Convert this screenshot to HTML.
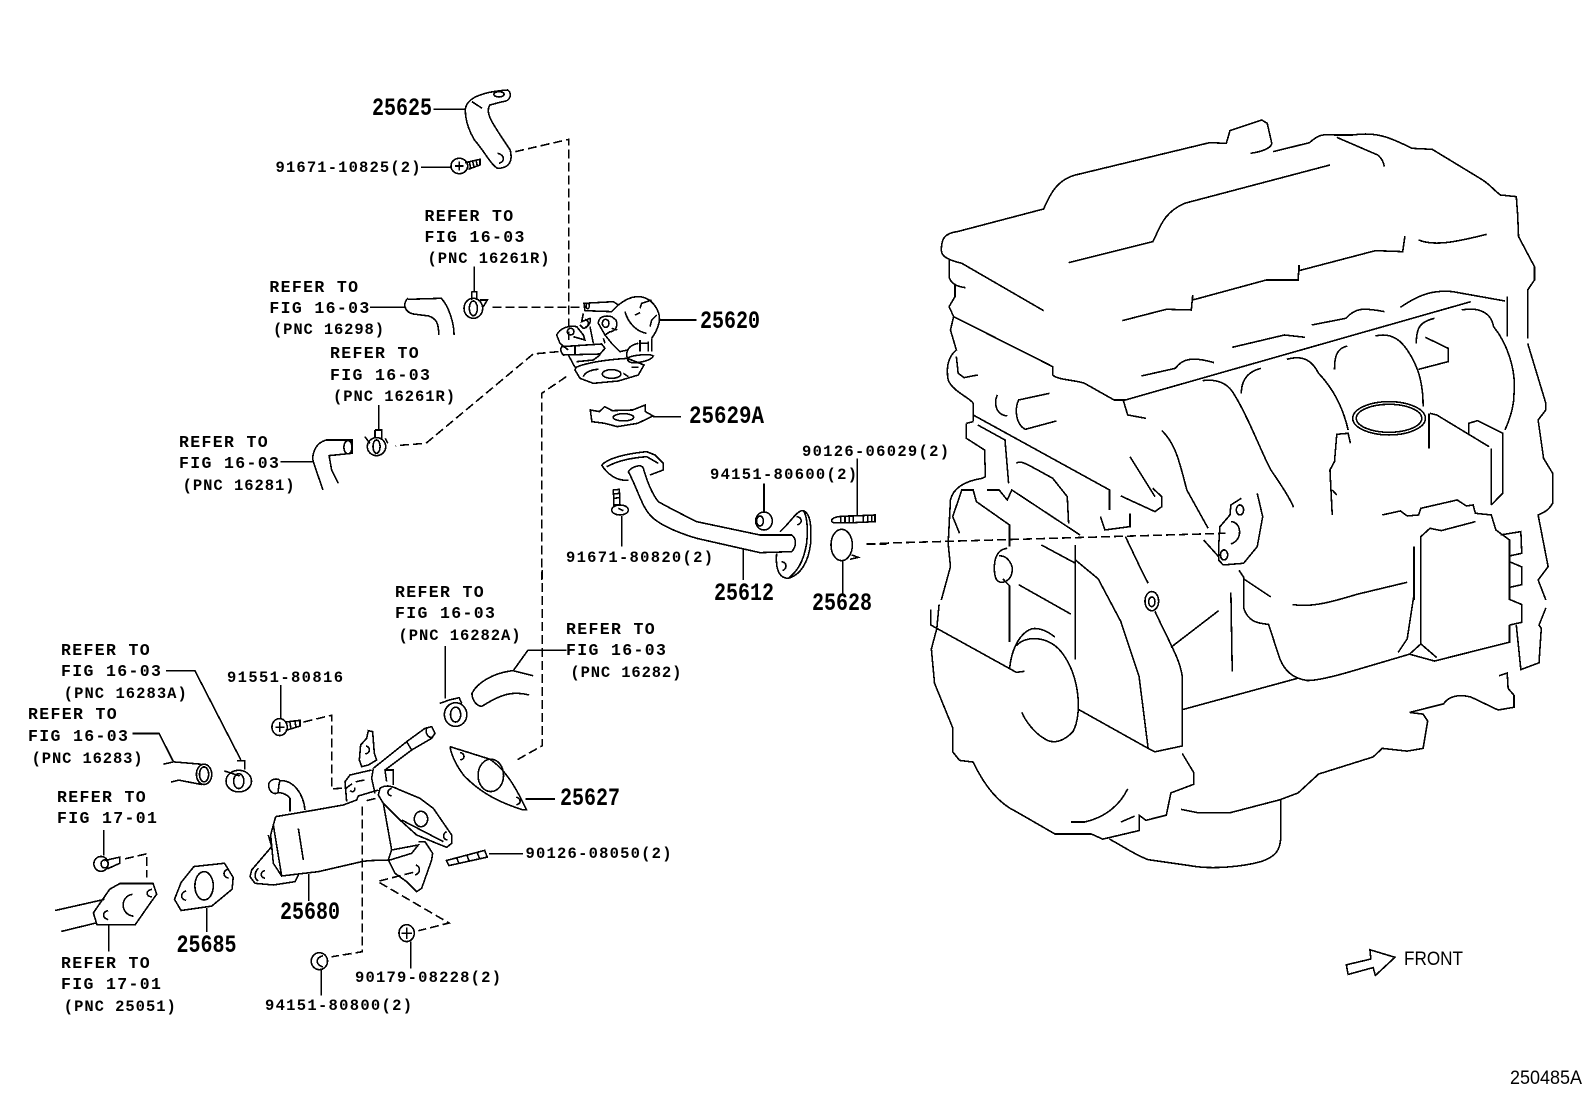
<!DOCTYPE html>
<html><head><meta charset="utf-8"><style>
html,body{margin:0;padding:0;background:#fff}
svg{display:block}
.l path,.l ellipse,.l line{fill:none;stroke:#000;stroke-width:1.6;vector-effect:non-scaling-stroke;shape-rendering:crispEdges}
.l .d{stroke-dasharray:9 4}
text{fill:#000}
.r{font:bold 16.5px "Liberation Mono",monospace;letter-spacing:1.35px}
.n{font:bold 15.5px "Liberation Mono",monospace}
.b{font:bold 25px "Liberation Mono",monospace}
.f{font:19px "Liberation Sans",sans-serif}
</style></head><body>
<svg xmlns="http://www.w3.org/2000/svg" width="1592" height="1099" viewBox="0 0 1592 1099">
<rect width="1592" height="1099" fill="#fff"/>

<!-- upper-left parts -->
<g class="l" transform="translate(0,60) scale(.5102,.3333)">
<path d="M912 148C915 110 950 95 995 90C1005 100 1000 125 985 125L960 135C950 160 965 190 1000 270C1005 300 1000 325 975 325C960 310 950 275 930 240C918 210 912 180 912 148M925 125L945 145"/>
<ellipse cx="978" cy="103" rx="10" ry="8"/><path d="M975 280C990 285 990 305 978 310"/>
<path d="M850 148L912 148M825 322L885 322"/>
<path class="d" d="M1010 275L1115 238L1115 840"/>
<path d="M725 742L795 742M800 715C790 725 790 755 810 762L840 768C855 775 860 790 860 825M800 718L865 715C880 740 890 790 890 825"/>
<path class="d" d="M965 742L1145 742"/>
<path class="d" d="M1095 875L1045 882L835 1150L775 1157"/>
<path class="d" d="M1110 950L1062 1000L1062 1560"/>
<path d="M1157 1050L1160 1085L1185 1090L1210 1100L1250 1090L1280 1068L1265 1055L1265 1035L1240 1050L1200 1052L1185 1040L1175 1055ZM1280 1070L1335 1070"/>
<ellipse cx="1222" cy="1072" rx="20" ry="11"/>
<path d="M742 1035L742 1110M735 1110L748 1110L748 1135M735 1110L735 1135M715 1130L725 1150M755 1135L760 1150"/><ellipse cx="738" cy="1160" rx="18" ry="27"/><ellipse cx="738" cy="1160" rx="7" ry="20"/>
<path d="M550 1205L615 1205M640 1140C615 1150 610 1190 615 1210L633 1290M640 1140L690 1140L690 1180L645 1187L650 1230L663 1270"/><ellipse cx="682" cy="1162" rx="8" ry="20"/>
</g>

<!-- bolt and clip near 25625 -->
<g class="l" transform="translate(430,130) scale(.3333)">
<ellipse cx="88" cy="108" rx="25" ry="23"/><path d="M75 108L100 108M88 95L88 122M105 98L150 88L150 105L115 118M118 95L122 115M128 93L132 112M138 90L142 108"/>
<path d="M133 410L133 485M125 485L140 485L140 510M125 485L125 510M150 510L172 510L160 530"/><ellipse cx="130" cy="535" rx="28" ry="30"/><ellipse cx="130" cy="535" rx="12" ry="22"/>
</g>

<!-- valve 25620 -->
<g class="l" transform="translate(540,280) scale(.3333)">
<path d="M132 70L220 65L235 75L215 95L135 92Z"/><ellipse cx="143" cy="78" rx="5" ry="8"/>
<path d="M235 75C260 55 285 45 310 52C340 60 362 95 358 125C352 150 345 160 335 175M255 95C265 130 290 155 320 160M285 105L300 98M335 60L305 70L300 85M330 140L335 120L350 105M358 120L470 120"/>
<path d="M335 175L335 215M325 185L325 215M300 190L325 190M300 180L300 215M295 190C270 195 255 210 262 235"/>
<path d="M262 235C275 225 330 220 340 228C335 240 300 250 275 248C262 245 262 238 262 235"/>
<path d="M108 262C135 250 190 240 262 235L312 255L295 285L235 303L160 310L120 295L105 270ZM130 290C135 275 160 268 175 268M275 262L295 262M250 280L265 290"/>
<ellipse cx="215" cy="282" rx="28" ry="13"/>
<path d="M175 130C175 110 195 105 215 110L228 120C235 140 225 155 210 155L195 165M175 130L195 165L215 190L240 215L262 210M215 145L232 150"/><ellipse cx="197" cy="130" rx="10" ry="12"/>
<path d="M130 100L125 125L150 115C155 130 140 145 130 145L120 135M135 118C148 122 148 138 135 142"/>
<path d="M50 165C60 145 85 135 110 140L130 165L135 180L100 170M50 165L60 190L85 210"/><ellipse cx="92" cy="155" rx="10" ry="10"/>
<path d="M65 200L185 192L195 205L180 222L70 225C60 215 62 205 65 200ZM105 198L105 222M85 225L105 262M150 140L160 190M180 225L160 240L110 245M190 175L195 190"/>
</g>

<!-- pipe 25612, stud, o-ring -->
<g class="l" transform="translate(600,440) scale(.3333)">
<path d="M5 75C30 50 90 40 140 35L165 45L190 70L190 90L150 105M85 120C50 125 20 100 5 75M20 80C50 65 80 55 140 50L175 70"/>
<path d="M85 95C95 80 125 70 130 85C140 120 155 160 175 185C210 205 250 225 290 245L480 285L575 285C590 295 590 320 575 335L480 338L290 295C240 280 190 260 160 235C125 205 115 150 85 95"/>
<path d="M40 150L58 148L60 195L42 195ZM40 162L58 160M41 175L59 173M65 228L65 320M55 205L70 212"/><ellipse cx="60" cy="210" rx="25" ry="15"/>
<ellipse cx="492" cy="243" rx="25" ry="27"/><ellipse cx="480" cy="243" rx="10" ry="15"/><path d="M492 130L492 215"/>
<path d="M540 275C570 250 590 210 610 212C630 220 635 250 632 310C625 370 600 405 565 415C545 415 525 400 530 340M610 212C620 225 625 260 620 310C610 370 590 395 565 415M590 230C608 232 608 250 592 255M545 365C562 368 562 385 548 392"/>
<path d="M430 325L430 420"/>
<path d="M695 240C700 230 720 228 760 228L825 225L825 245L760 248L705 248C695 248 695 245 695 240ZM760 228L760 248M722 228L722 248M735 228L735 248M748 228L748 248M790 227L790 247M803 227L803 247M815 226L815 246M772 55L772 225"/>
<ellipse cx="725" cy="315" rx="32" ry="47"/><path d="M755 345L775 352L750 358M728 360L728 460"/>
<path class="d" d="M800 312L860 312"/>
</g>

<!-- cooler 25680 -->
<g class="l" transform="translate(240,710) scale(.3333)">
<path d="M107 320L225 300L310 285L350 270L355 258L415 240"/>
<path d="M107 320L100 345L125 498L235 485L365 455L385 452L450 450L515 430L535 405L455 420"/>
<path d="M100 345L92 375L100 460L125 498M175 355L190 450M430 280L455 420L445 450L465 490L500 515L530 545L545 535L575 450L578 430L555 395L535 395"/>
<path d="M85 375L95 410L35 480L30 500L45 520L100 525L165 515L175 495M55 475C40 490 45 510 55 512M75 482C60 485 60 502 75 505M528 465C542 470 542 490 525 495"/>
<path d="M150 305L150 265C140 250 115 245 110 250C90 255 80 225 90 215C100 205 115 205 120 212C160 210 190 250 195 300M120 212C115 225 115 240 115 250"/>
<path d="M400 175L500 95L555 55L575 50L585 70L575 85L515 120L435 180L440 215M500 95L515 120M400 175L395 205L405 250M435 180L460 180L460 225M560 55C555 70 565 85 578 82"/>
<path d="M362 105L380 85L385 62L398 65L403 130L410 150L385 165L365 170L358 150ZM378 108C392 112 392 128 376 132"/>
<path d="M320 275L315 215L330 195L395 180M345 232C345 245 338 248 330 242"/>
<path d="M420 235C435 225 450 225 480 240L540 265L580 295L635 375L635 400L620 412L590 400L530 375L480 330L430 280L415 255ZM485 330L610 395M455 235C440 240 440 255 455 258M620 365C608 370 608 388 622 390"/>
<ellipse cx="543" cy="327" rx="20" ry="23"/>
<path class="d" d="M380 272L408 265"/>
<path class="d" d="M315 238C340 215 355 212 380 210"/>
</g>

<!-- lower-left parts -->
<g class="l" transform="translate(0,570) scale(.5102,.3378)">
<path d="M873 225L873 380M862 395L880 385L900 378L905 395"/><ellipse cx="893" cy="428" rx="22" ry="35"/><ellipse cx="893" cy="428" rx="10" ry="22"/>
<path d="M1110 237L1035 237L1005 300M1005 298C965 305 935 335 925 365C925 385 935 405 945 403C975 375 1000 355 1037 370M1005 298L1045 313"/>
<path class="d" d="M1063 0L1063 520L1010 565"/>
<path d="M882 523L960 560C990 590 1010 640 1032 710L1025 710C960 680 930 640 910 610C895 580 885 550 882 523"/>
<ellipse cx="962" cy="608" rx="25" ry="48"/><path d="M902 540C912 545 912 560 902 562M1012 672C1022 678 1022 692 1012 695"/>
<path d="M1030 678L1088 678M325 298L382 298L472 562M465 565L480 565L480 590M440 595L470 610"/><ellipse cx="468" cy="625" rx="25" ry="32"/><ellipse cx="468" cy="625" rx="10" ry="22"/>
<path d="M260 484L312 484L340 568M320 575L340 568L395 575M335 628L350 622L395 635"/><ellipse cx="400" cy="605" rx="15" ry="30"/><ellipse cx="400" cy="605" rx="9" ry="22"/>
<path d="M550 340L550 440M560 450L588 445L588 462L560 475M568 448L570 468M578 446L580 465M540 465L558 465M548 450L548 480"/><ellipse cx="548" cy="465" rx="15" ry="25"/>
<path class="d" d="M595 450L650 430L650 648L680 645"/>
<path class="d" d="M710 700L710 1130L650 1145"/>
<path class="d" d="M810 895L740 922L880 1045L820 1068"/>
<path d="M875 860L950 830L955 850L880 875ZM895 852L900 870M915 845L920 862M935 835L940 855M958 840L1025 840"/>
<ellipse cx="797" cy="1075" rx="15" ry="25"/><path d="M787 1075L808 1075M797 1058L797 1092M805 1100L805 1180M630 1180L630 1260"/>
<ellipse cx="626" cy="1158" rx="16" ry="25"/><path d="M633 1142C618 1148 618 1168 633 1175"/>
<path d="M108 1008L205 975M120 1070L188 1045M215 945L235 928L300 928L307 960L295 985L265 1050L190 1050L183 1015ZM213 1050L213 1130"/>
<path d="M260 960C235 965 235 1020 262 1025M212 1008C200 1012 200 1030 212 1035M298 945C285 950 285 965 298 968"/>
<path d="M203 770L203 845M205 860L235 850L235 868L210 885"/><ellipse cx="198" cy="870" rx="14" ry="22"/><ellipse cx="205" cy="870" rx="7" ry="12"/>
<path class="d" d="M245 855L288 840L288 910"/>
<path d="M380 878L440 868L457 910L455 945L415 995L355 1008L342 975L355 925ZM405 1000L405 1072M605 900L605 980"/>
<ellipse cx="400" cy="935" rx="18" ry="42"/><path d="M448 885C436 890 436 908 448 912M365 950C353 955 353 975 365 978"/>
</g>

<!-- engine upper -->
<g class="l" transform="translate(880,100) scale(.4545,.3333)">
<path d="M135 450C135 420 140 400 170 395L360 327C375 280 390 240 430 225L725 128L762 130L770 92L840 60L852 70L862 130C860 145 840 155 815 160"/>
<path d="M865 155L945 128C960 110 970 100 1000 105L1040 105C1090 95 1120 110 1170 145L1215 148L1320 235C1340 250 1350 270 1365 285L1400 290L1403 345L1405 410L1440 500L1440 540L1425 570L1425 715"/>
<path d="M1005 112L1095 165C1105 175 1108 190 1110 200"/>
<path d="M415 488L600 425C615 390 620 340 670 310L990 195"/>
<path d="M135 450C135 470 150 480 180 490L360 632M152 478L152 530C155 550 170 560 188 563"/>
<path d="M165 555L165 590L152 620L162 650L380 800L380 825C390 840 430 840 450 850L515 900L540 900L1300 605"/>
<path d="M162 650L155 690L168 750C150 770 145 800 150 840C160 875 200 895 205 910L205 965"/>
<path d="M168 770L172 820L185 833L215 825"/>
<path d="M1185 420C1220 440 1270 425 1335 403"/>
<path d="M533 662L630 628L685 630L688 585L688 600L850 540L920 540L922 495L922 512L1090 452L1150 455L1155 408"/>
<path d="M1145 622C1190 580 1220 570 1260 575L1375 603M1380 590L1380 710"/>
<path d="M950 675L1025 655C1045 625 1060 622 1110 635M775 742L890 705L935 712M575 828L650 805C665 775 690 770 735 788"/>
<path d="M1425 730L1465 910L1465 930L1448 960L1460 1075L1480 1120L1480 1210C1470 1235 1455 1240 1448 1245L1470 1400L1448 1440L1465 1500"/>
<path d="M1280 630C1320 620 1345 640 1350 680C1380 730 1400 810 1395 880C1395 920 1385 960 1375 990"/>
<path d="M1180 730C1180 680 1190 665 1220 655M1090 708C1130 695 1150 730 1160 750C1185 800 1195 850 1195 920"/>
<path d="M1200 712L1250 745L1250 785L1185 808M1000 808C1000 770 1005 745 1028 738"/>
<path d="M895 778C930 765 950 780 965 820C1000 870 1020 930 1030 990"/>
<path d="M710 842C750 835 770 860 780 885C810 950 840 1060 860 1110C880 1150 900 1190 910 1222"/>
<path d="M795 880C795 840 810 815 838 805M535 900L545 945L585 955"/>
<path d="M620 992C650 1030 660 1090 675 1170L722 1285"/>
<path d="M258 885C250 910 255 945 280 948M373 880L305 900C295 930 300 975 320 988L388 963"/>
<ellipse cx="1120" cy="955" rx="80" ry="50"/><ellipse cx="1120" cy="955" rx="72" ry="42"/>
<path d="M1035 1030L1030 1000L1005 1003L1000 1085L990 1110L995 1245M1005 1185L995 1170"/>
<path d="M1210 940L1225 945L1340 1040M1208 940L1208 1045"/>
<path d="M1295 1000L1295 970L1315 962L1370 1000L1370 1180L1345 1215M1345 1045L1345 1215"/>
<path d="M1105 1245L1145 1233L1160 1248L1185 1245L1190 1225L1270 1200L1290 1218L1305 1215L1310 1240L1345 1245L1355 1290L1385 1320L1385 1500"/>
<path d="M1190 1430L1190 1310L1210 1285L1235 1292L1310 1265M1175 1340L1175 1500"/>
<path d="M1365 1305L1410 1295L1412 1360L1385 1368"/>
<path d="M190 970L190 1015L230 1050L232 1130L225 1135C180 1145 160 1170 155 1200L150 1330L155 1400L135 1500"/>
<path d="M205 945L505 1170L505 1230M190 970L205 965M215 975L275 1020L283 1150"/>
<path d="M300 1090C310 1080 320 1090 380 1135L412 1190L415 1270"/>
<path d="M175 1300L160 1250L180 1170L205 1170L212 1205L285 1275L285 1340"/>
<path d="M280 1345C245 1350 250 1420 255 1435C260 1455 285 1450 290 1420C295 1395 280 1365 262 1368"/>
<path d="M235 1170L262 1170L280 1200L290 1170L440 1305"/>
<path d="M355 1335L430 1390M430 1335L430 1500"/>
<path d="M485 1250L495 1290L550 1280L550 1240M550 1070L605 1190M530 1188L605 1235L620 1220L620 1190L600 1165"/>
<path d="M540 1310L575 1410L590 1450"/>
<path class="d" d="M0 1330L760 1300"/>
<path d="M795 1195L772 1215L770 1245L748 1280L745 1340L745 1380L755 1395L800 1390L830 1340L842 1250L830 1180M712 1320L745 1370"/>
<path d="M772 1265C795 1265 800 1320 772 1332"/><ellipse cx="792" cy="1230" rx="8" ry="15"/><ellipse cx="757" cy="1365" rx="8" ry="15"/>
</g>

<!-- engine lower -->
<g class="l" transform="translate(880,560) scale(.4545,.3425)">
<path d="M130 130L125 200M112 145L112 190L300 328L318 325"/>
<path d="M125 200L113 260L120 360L160 490L160 560L175 585L205 590C230 660 260 710 300 735L385 800L465 800L490 815L570 790L570 745L585 760L630 745L640 680L690 655L690 620L665 565"/>
<path d="M430 0L430 290M305 72L420 158M270 55L285 75L285 240"/>
<path d="M285 320C290 240 320 200 340 200C360 200 375 215 385 225"/>
<path d="M300 250C320 220 370 220 400 270C440 340 445 450 425 500C405 530 380 540 360 520C340 505 320 470 312 445"/>
<path d="M430 0L480 55L530 180L570 340L590 550M435 435L590 550L605 560L665 543L665 340C660 290 640 250 605 150"/>
<path d="M640 255L745 148M772 95L775 325"/>
<ellipse cx="598" cy="120" rx="15" ry="28"/><ellipse cx="598" cy="122" rx="7" ry="14"/>
<path d="M790 30L800 50L800 140C810 180 830 185 855 188L880 290C890 320 905 345 940 352C960 352 1000 340 1050 320L1165 275L1220 295L1385 240L1385 190"/>
<path d="M800 55L860 108M908 130C950 140 1000 120 1050 100L1160 65M665 437L920 345"/>
<path d="M1190 0L1190 245L1225 285M1175 0L1175 100L1160 230L1140 270M1190 245L1165 275"/>
<path d="M1385 0L1385 80L1412 72L1412 20L1385 5M1385 115L1412 130L1412 182L1385 190"/>
<path d="M1400 190L1410 320L1450 300L1455 200L1450 190L1465 140"/>
<path d="M1362 338L1380 330L1382 375L1395 395L1395 430L1360 438L1300 400C1270 390 1250 400 1240 420L1165 445L1195 450L1205 470L1195 550L1160 558L1105 550L1085 575L965 625L920 680L880 700L770 738L700 738L662 728"/>
<path d="M882 700L882 810C880 850 870 865 840 880C800 895 730 905 680 892L590 875C560 860 540 840 505 815"/>
<path d="M545 668C530 710 500 750 450 765L420 765M530 765L560 748"/>
<path d="M1026 1182L1080 1165L1078 1138L1133 1160L1090 1213L1085 1190L1030 1210Z"/>
</g>

<!-- labels -->
<text class="b" x="372" y="115" textLength="60" lengthAdjust="spacingAndGlyphs">25625</text>
<text class="n" x="275.5" y="172" textLength="145">91671-10825(2)</text>
<text class="r" x="424.5" y="221">REFER TO</text><text class="r" x="424.5" y="242">FIG 16-03</text><text class="n" x="427.5" y="263" textLength="122">(PNC 16261R)</text>
<text class="r" x="269.4" y="292">REFER TO</text><text class="r" x="269.4" y="313">FIG 16-03</text><text class="n" x="273" y="334" textLength="111">(PNC 16298)</text>
<text class="r" x="330" y="358">REFER TO</text><text class="r" x="330" y="380">FIG 16-03</text><text class="n" x="333" y="401" textLength="122">(PNC 16261R)</text>
<text class="r" x="179" y="447">REFER TO</text><text class="r" x="179" y="468">FIG 16-03</text><text class="n" x="182.6" y="490" textLength="112">(PNC 16281)</text>
<text class="b" x="700" y="328" textLength="60" lengthAdjust="spacingAndGlyphs">25620</text>
<text class="b" x="689" y="423" textLength="75" lengthAdjust="spacingAndGlyphs">25629A</text>
<text class="n" x="802" y="456" textLength="147">90126-06029(2)</text>
<text class="n" x="710" y="479" textLength="147">94151-80600(2)</text>
<text class="n" x="566" y="562" textLength="147">91671-80820(2)</text>
<text class="b" x="714" y="600" textLength="60" lengthAdjust="spacingAndGlyphs">25612</text>
<text class="b" x="812" y="610" textLength="60" lengthAdjust="spacingAndGlyphs">25628</text>
<text class="r" x="395" y="597">REFER TO</text><text class="r" x="395" y="618">FIG 16-03</text><text class="n" x="398.5" y="640" textLength="122">(PNC 16282A)</text>
<text class="r" x="566" y="634">REFER TO</text><text class="r" x="566" y="655">FIG 16-03</text><text class="n" x="570.4" y="677" textLength="111">(PNC 16282)</text>
<text class="r" x="61" y="655">REFER TO</text><text class="r" x="61" y="676">FIG 16-03</text><text class="n" x="63.8" y="698" textLength="123">(PNC 16283A)</text>
<text class="n" x="227" y="682" textLength="116">91551-80816</text>
<text class="r" x="28" y="719">REFER TO</text><text class="r" x="28" y="741">FIG 16-03</text><text class="n" x="31.6" y="763" textLength="111">(PNC 16283)</text>
<text class="r" x="57" y="802">REFER TO</text><text class="r" x="57" y="823">FIG 17-01</text>
<text class="b" x="560" y="805" textLength="60" lengthAdjust="spacingAndGlyphs">25627</text>
<text class="n" x="525.5" y="858" textLength="146">90126-08050(2)</text>
<text class="b" x="280" y="919" textLength="60" lengthAdjust="spacingAndGlyphs">25680</text>
<text class="b" x="176.5" y="952" textLength="60" lengthAdjust="spacingAndGlyphs">25685</text>
<text class="r" x="61" y="968">REFER TO</text><text class="r" x="61" y="989">FIG 17-01</text><text class="n" x="63.8" y="1011" textLength="112">(PNC 25051)</text>
<text class="n" x="355" y="982" textLength="146">90179-08228(2)</text>
<text class="n" x="265" y="1010" textLength="147">94151-80800(2)</text>
<text class="f" x="1404" y="965" textLength="59" lengthAdjust="spacingAndGlyphs">FRONT</text>
<text class="f" x="1510" y="1084" textLength="72" lengthAdjust="spacingAndGlyphs">250485A</text>
</svg>
</body></html>
